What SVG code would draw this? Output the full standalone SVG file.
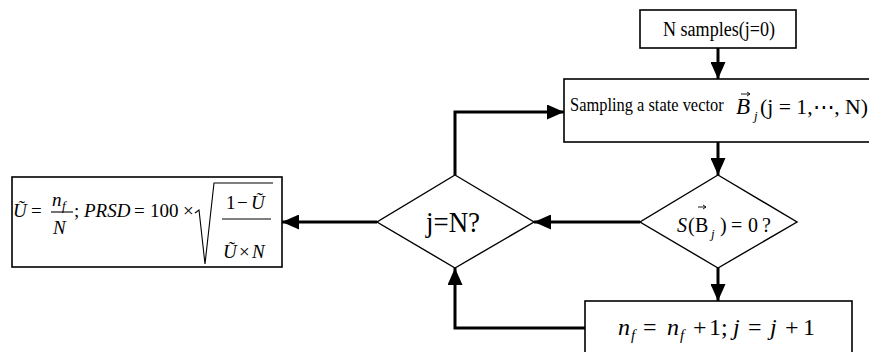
<svg xmlns="http://www.w3.org/2000/svg" width="869" height="352" viewBox="0 0 869 352">
<style>
.box{fill:#fff;stroke:#000;stroke-width:1.6}
.dia{fill:#fff;stroke:#000;stroke-width:1.4}
.con{fill:none;stroke:#000;stroke-width:3}
.t{font-family:"Liberation Serif","DejaVu Serif",serif;fill:#000}
.i{font-style:italic}
.rule{stroke:#000;stroke-width:1.1;fill:none}
.vec{stroke:#000;stroke-width:0.9;fill:none}
</style>
<defs>
<marker id="ah" markerUnits="userSpaceOnUse" markerWidth="17" markerHeight="15" refX="17" refY="7.5" orient="auto">
<path d="M0,0 L17,7.5 L0,15 z" fill="#000"/>
</marker>
</defs>
<rect width="869" height="352" fill="#fff"/>
<g id="connectors">
<path class="con" d="M718,48 V79" marker-end="url(#ah)"/>
<path class="con" d="M718,142 V175" marker-end="url(#ah)"/>
<path class="con" d="M640,222 H534" marker-end="url(#ah)"/>
<path class="con" d="M455,175 V112 H564" marker-end="url(#ah)"/>
<path class="con" d="M718,268 V301" marker-end="url(#ah)"/>
<path class="con" d="M585,328 H455 V268" marker-end="url(#ah)"/>
<path class="con" d="M377,222 H282" marker-end="url(#ah)"/>
</g>
<g id="start">
<rect class="box" x="640" y="10" width="156" height="38"/>
<text class="t" x="663" y="36" font-size="20" textLength="112" lengthAdjust="spacingAndGlyphs">N samples(j=0)</text>
</g>
<g id="sampling">
<rect class="box" x="564" y="79" width="320" height="63"/>
<text class="t" font-size="19" transform="translate(570,111) scale(0.865,1)">Sampling a state vector</text>
<text class="t i" x="736" y="114" font-size="23">B</text>
<path class="vec" d="M741,94 H750 M747,92 L750,94 L747,96"/>
<text class="t i" x="754" y="120" font-size="13">j</text>
<text class="t" x="760" y="114" font-size="21" textLength="108" lengthAdjust="spacingAndGlyphs">(j = 1,⋯, N)</text>
</g>
<g id="check">
<polygon class="dia" points="718,175 797,222 718,268 640,222"/>
<text class="t" y="232" font-size="20"><tspan class="i" x="677">S</tspan><tspan x="688">(</tspan><tspan x="695">B</tspan><tspan x="720">)</tspan><tspan x="731">=</tspan><tspan x="748">0</tspan><tspan x="762">?</tspan></text>
<path class="vec" d="M698,207 H706 M703,205 L706,207 L703,209"/>
<text class="t i" x="711" y="238" font-size="13">j</text>
</g>
<g id="loop">
<polygon class="dia" points="455,175 534,222 455,268 377,222"/>
<text class="t" x="426" y="232" font-size="29" textLength="54" lengthAdjust="spacingAndGlyphs">j=N?</text>
</g>
<g id="update">
<rect class="box" x="585" y="301" width="267" height="62"/>
<text class="t" y="335" font-size="24"><tspan class="i" x="618">n</tspan><tspan x="643">=</tspan><tspan class="i" x="667">n</tspan><tspan x="693">+</tspan><tspan x="709">1;</tspan><tspan class="i" x="733">j</tspan><tspan x="748">=</tspan><tspan class="i" x="770">j</tspan><tspan x="785">+</tspan><tspan x="803">1</tspan></text>
<text class="t i" y="340" font-size="15"><tspan x="631">f</tspan><tspan x="680">f</tspan></text>
</g>
<g id="result">
<rect class="box" x="12" y="177" width="270" height="90"/>
<text class="t" font-size="19">
<tspan class="i" x="13" y="217">Ũ</tspan><tspan x="31" y="217">=</tspan>
<tspan class="i" x="52" y="206">n</tspan>
<tspan class="i" x="53" y="234">N</tspan>
<tspan x="74" y="217">;</tspan><tspan class="i" x="84" y="217">PRSD</tspan><tspan x="134" y="217">=</tspan><tspan x="150" y="217">100</tspan><tspan x="183" y="217">×</tspan>
<tspan x="226" y="209">1</tspan><tspan x="237" y="209">−</tspan><tspan class="i" x="251" y="209">Ũ</tspan>
<tspan class="i" x="223" y="258">Ũ</tspan><tspan x="239" y="258">×</tspan><tspan class="i" x="252" y="258">N</tspan>
</text>
<text class="t i" x="62" y="210" font-size="13">f</text>
<line class="rule" x1="51" y1="212" x2="73" y2="212"/>
<path class="rule" d="M195,213 L199,210 L205,264 L214,183 H273"/>
<line class="rule" x1="222" y1="219" x2="271" y2="219"/>
</g>
</svg>
